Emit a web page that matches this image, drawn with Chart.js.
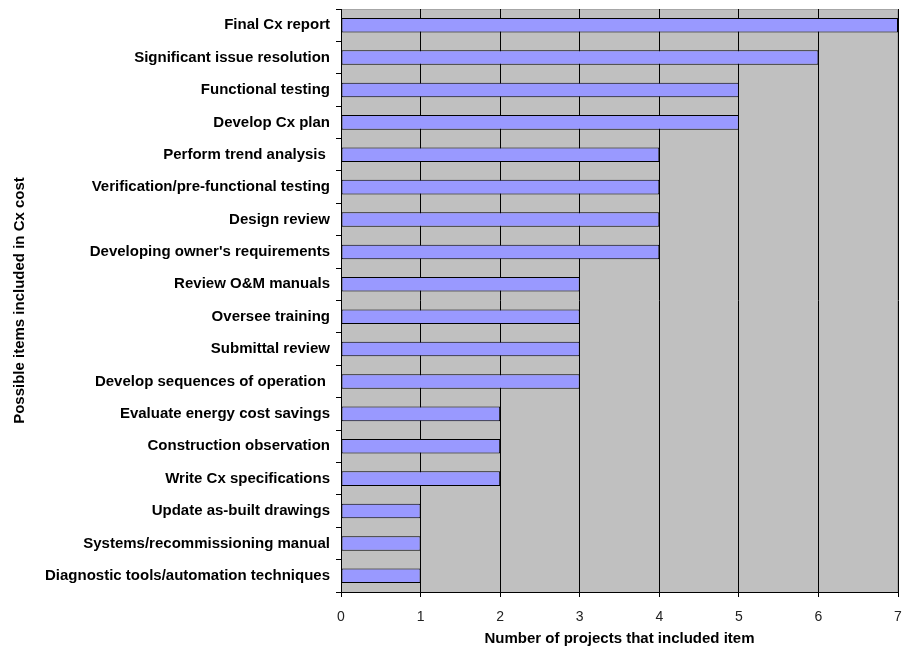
<!DOCTYPE html>
<html>
<head>
<meta charset="utf-8">
<script src="https://cdn.jsdelivr.net/npm/chart.js@4/dist/chart.umd.min.js"></script>
<style>
  html, body { margin: 0; padding: 0; background: #fff; }
  #wrap { width: 902px; height: 652px; }
</style>
</head>
<body>
<div id="wrap"><canvas id="cxChart" width="902" height="652"></canvas></div>
<script>
// Items included in Cx cost, top to bottom
const items = [
  'Final Cx report',
  'Significant issue resolution',
  'Functional testing',
  'Develop Cx plan',
  'Perform trend analysis ',
  'Verification/pre-functional testing',
  'Design review',
  "Developing owner's requirements",
  'Review O&M manuals',
  'Oversee training',
  'Submittal review',
  'Develop sequences of operation ',
  'Evaluate energy cost savings',
  'Construction observation',
  'Write Cx specifications',
  'Update as-built drawings',
  'Systems/recommissioning manual',
  'Diagnostic tools/automation techniques'
];
const projectCounts = [7, 6, 5, 5, 4, 4, 4, 4, 3, 3, 3, 3, 2, 2, 2, 1, 1, 1];
const xTicks = [0, 1, 2, 3, 4, 5, 6, 7];

const FONT = 'Arial, "Liberation Sans", sans-serif';

// gray plot background + light top/right frame
const plotBackground = {
  id: 'plotBackground',
  beforeDraw(chart) {
    const { ctx, chartArea: a } = chart;
    ctx.save();
    ctx.fillStyle = '#c0c0c0';
    ctx.fillRect(a.left, a.top, a.right - a.left, a.bottom - a.top);
    ctx.strokeStyle = '#a6a6a6';
    ctx.lineWidth = 1;
    ctx.beginPath();
    ctx.moveTo(a.left, a.top + 0.5);
    ctx.lineTo(a.right - 0.5, a.top + 0.5);
    ctx.lineTo(a.right - 0.5, a.bottom);
    ctx.stroke();
    ctx.restore();
  }
};

new Chart(document.getElementById('cxChart'), {
  type: 'bar',
  data: {
    labels: items,
    datasets: [{
      data: projectCounts,
      backgroundColor: '#9999ff',
      borderColor: '#000',
      borderWidth: 1,
      borderSkipped: false,
      categoryPercentage: 1,
      barPercentage: 0.45
    }]
  },
  options: {
    indexAxis: 'y',
    responsive: false,
    animation: false,
    layout: { padding: { top: 9, right: 4, left: 0, bottom: 0 } },
    plugins: { legend: { display: false }, tooltip: { enabled: false } },
    scales: {
      x: {
        min: 0,
        max: 7,
        afterBuildTicks: (s) => { s.ticks = xTicks.map(v => ({ value: v })); },
        afterFit: (s) => { s.height = 60; s.paddingLeft = 0; s.paddingRight = 0; },
        ticks: {
          color: '#222',
          padding: 12,
          font: { family: FONT, size: 14 }
        },
        grid: { color: '#000', lineWidth: 1, tickLength: 5, drawOnChartArea: true },
        border: { color: '#000', width: 1 },
        title: {
          display: true,
          text: 'Number of projects that included item',
          color: '#000',
          font: { family: FONT, size: 15, weight: 'bold' },
          padding: { top: 4, bottom: 4 }
        }
      },
      y: {
        afterFit: (s) => { s.width = 341; s.paddingTop = 0; s.paddingBottom = 0; },
        ticks: {
          color: '#000',
          padding: 6,
          font: { family: FONT, size: 15, weight: 'bold' }
        },
        grid: { offset: true, drawOnChartArea: false, color: '#000', tickLength: 5 },
        border: { color: '#000', width: 1 },
        title: {
          display: true,
          text: 'Possible items included in Cx cost',
          color: '#000',
          font: { family: FONT, size: 15, weight: 'bold' },
          padding: { top: 11, bottom: 0 }
        }
      }
    }
  },
  plugins: [plotBackground]
});
</script>
</body>
</html>
